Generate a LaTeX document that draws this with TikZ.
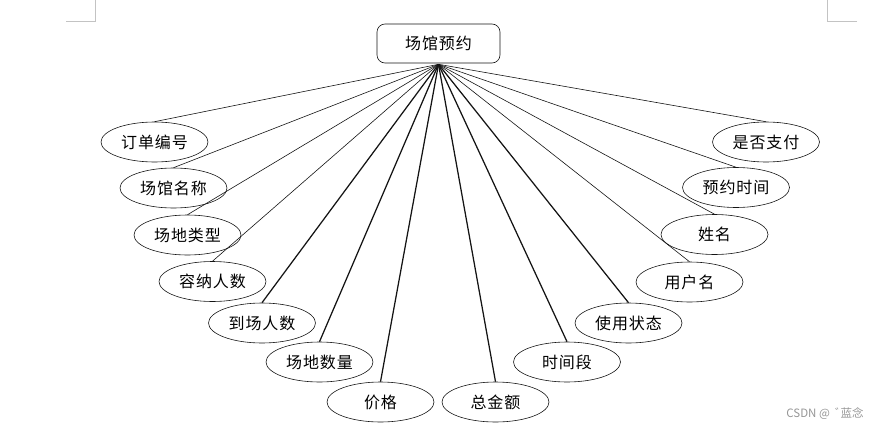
\documentclass[tikz,border=0pt]{standalone}
\usepackage{fontspec}
\setmainfont{Noto Sans CJK SC}
\newfontfamily\cjkfont[LetterSpace=6]{Noto Sans CJK SC}
\usepackage{tikz}
\usetikzlibrary{shapes.geometric, positioning}
\definecolor{mydark}{RGB}{20,20,20}
\definecolor{markgray}{RGB}{195,195,195}
\definecolor{wmgray}{RGB}{150,150,150}
\tikzset{
  rootbox/.style={rectangle, draw=mydark, rounded corners=8pt,
    minimum width=123pt, minimum height=39pt, inner sep=0pt,
    font=\cjkfont\fontsize{16}{18}\selectfont, line width=0.6pt},
  attr/.style={ellipse, draw=mydark, minimum width=107pt,
    minimum height=40pt, inner sep=0pt,
    font=\cjkfont\fontsize{16}{18}\selectfont, line width=0.6pt},
  thinlink/.style={line width=0.6pt, color=mydark},
  boldlink/.style={line width=1.25pt, color=mydark},
  cropmark/.style={line width=0.8pt, color=markgray}
}

\begin{document}
\begin{tikzpicture}[x=1pt, y=-1pt]
  \useasboundingbox (0,0) rectangle (883,431);

  % page corner marks
  \coordinate (tl1) at (66,21);
  \coordinate (tl2) at (95,21);
  \coordinate (tl3) at (95,0);
  \coordinate (tr1) at (857,21);
  \coordinate (tr2) at (827,21);
  \coordinate (tr3) at (827,0);
  \draw[cropmark] (tl1) -- (tl2) -- (tl3);
  \draw[cropmark] (tr1) -- (tr2) -- (tr3);

  % entity
  \node[rootbox] (root) at (438.5,43.5) {场馆预约};
  \coordinate (hub) at ([yshift=-1pt]root.south);

  % attributes
  \foreach \nm/\px/\py/\txt in {
      ddbh/154.5/142/订单编号, cgmc/173.5/188/场馆名称,
      cdlx/187.5/235/场地类型, rnrs/212.5/281.5/容纳人数,
      dcrs/262/323/到场人数, cdsl/319.5/362/场地数量,
      jg/380.5/402/价格, zje/495.5/402/总金额,
      sjd/567/362/时间段, syzt/628.5/323/使用状态,
      yhm/689.5/282/用户名, xm/714.5/234.5/姓名,
      yysj/736/187.5/预约时间, sfzf/766/142/是否支付}
    \node[attr] (\nm) at (\px,\py) {\txt};

  % links
  \foreach \nm in {ddbh, cgmc, cdlx, rnrs, yhm, xm, yysj, sfzf}
    \draw[thinlink] (hub) -- (\nm.north);
  \foreach \nm in {dcrs, cdsl, jg, zje, sjd, syzt}
    \draw[boldlink] (hub) -- (\nm.north);

  % watermark
  \node[font=\fontsize{11.5}{13}\selectfont, text=wmgray, inner sep=0pt]
    (mark) at (825,414) {CSDN @\ \ ゛\hspace{-6pt}蓝念};
\end{tikzpicture}
\end{document}
